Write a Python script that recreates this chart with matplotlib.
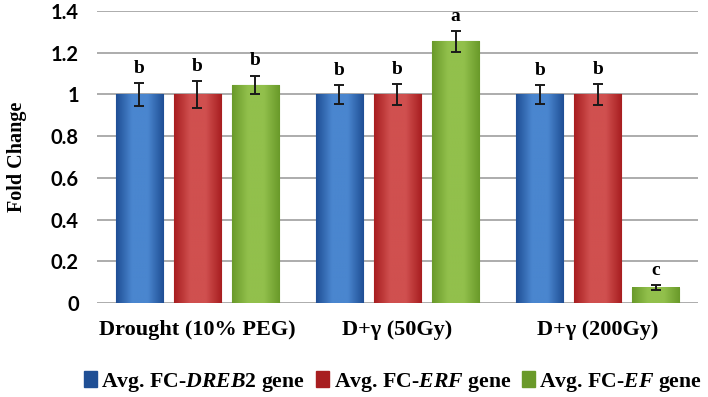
import numpy as np
import matplotlib
matplotlib.use("Agg")
import matplotlib.pyplot as plt
from matplotlib.colors import LinearSegmentedColormap
from matplotlib.patches import Patch

categories = ["Drought (10% PEG)", "D+\u03b3 (50Gy)", "D+\u03b3 (200Gy)"]
series_names = [r"Avg. FC-$\mathit{DREB}$2 gene", r"Avg. FC-$\mathit{ERF}$ gene", r"Avg. FC-$\mathit{EF}$ gene"]
dreb2 = [1.0, 1.0, 1.0]
erf = [1.0, 1.0, 1.0]
ef = [1.045, 1.255, 0.073]
dreb2_err = [0.055, 0.045, 0.045]
erf_err = [0.065, 0.05, 0.05]
ef_err = [0.045, 0.05, 0.012]
dreb2_letters = ["b", "b", "b"]
erf_letters = ["b", "b", "b"]
ef_letters = ["b", "a", "c"]
yticks = [0, 0.2, 0.4, 0.6, 0.8, 1, 1.2, 1.4]
ytick_labels = ["0", "0.2", "0.4", "0.6", "0.8", "1", "1.2", "1.4"]

colors = [("#1f4f95", "#4a86cf"), ("#a81e20", "#d0504f"), ("#6a9a2a", "#92c04c")]

plt.rcParams['mathtext.fontset'] = 'custom'
plt.rcParams['mathtext.it'] = 'Liberation Serif:italic:bold'
plt.rcParams['mathtext.rm'] = 'Liberation Serif:bold'

fig = plt.figure(figsize=(7.08, 3.97), dpi=100)
ax = fig.add_axes([97/708, 1 - 303/397, 601/708, 292/397])

x = np.arange(len(categories))
width = 0.235
pitch = 0.29
all_vals = [dreb2, erf, ef]
all_errs = [dreb2_err, erf_err, ef_err]
all_letters = [dreb2_letters, erf_letters, ef_letters]

for yv in yticks:
    ax.axhline(yv, color="#a6a6a6", lw=1.3, zorder=0)

for i, (vals, errs, letters) in enumerate(zip(all_vals, all_errs, all_letters)):
    pos = x + (i - 1) * pitch
    dark, light = colors[i]
    bars = ax.bar(pos, vals, width, color=light, edgecolor=dark, lw=0.8, zorder=2)
    cmap = LinearSegmentedColormap.from_list("g", [dark, light, light, dark])
    grad = np.linspace(0, 1, 64).reshape(1, -1)
    for b in bars:
        x0, y0 = b.get_x(), b.get_y()
        w, h = b.get_width(), b.get_height()
        ax.imshow(grad, cmap=cmap, aspect="auto", extent=(x0, x0 + w, y0, y0 + h), zorder=2.1, interpolation="bicubic")
    ax.errorbar(pos, vals, yerr=errs, fmt="none", ecolor="#1a1a1a", elinewidth=1.4, capsize=3.5, capthick=1.4, zorder=4)
    for p, v, e, l in zip(pos, vals, errs, letters):
        ax.text(p, v + e + 0.03, l, ha="center", va="bottom", fontsize=14, fontweight="bold",
                family="Liberation Serif", zorder=5)

ax.set_xlim(-0.5, 2.5)
ax.set_ylim(0, 1.4)
ax.set_yticks(yticks)
ax.set_yticklabels(ytick_labels, family="Lato", fontweight="bold", fontsize=14.5)
ax.set_xticks(x)
ax.set_xticklabels(categories, family="Liberation Serif", fontweight="bold", fontsize=16)
ax.tick_params(length=0)
ax.tick_params(axis="y", pad=13)
ax.tick_params(axis="x", pad=12)
for s in ax.spines.values():
    s.set_visible(False)
ax.set_ylabel("Fold Change", family="Liberation Serif", fontweight="bold", fontsize=14.5, labelpad=17)

handles = [Patch(facecolor=colors[i][0], edgecolor=colors[i][0]) for i in range(3)]
fig.legend(handles, series_names, loc="center", bbox_to_anchor=(0.555, 1 - 382/397), ncol=3,
           frameon=False, handlelength=0.6, handleheight=0.7, handletextpad=0.2, columnspacing=0.5,
           prop={"family": "Liberation Serif", "weight": "bold", "size": 15.7})

fig.savefig("out.png", dpi=100)
